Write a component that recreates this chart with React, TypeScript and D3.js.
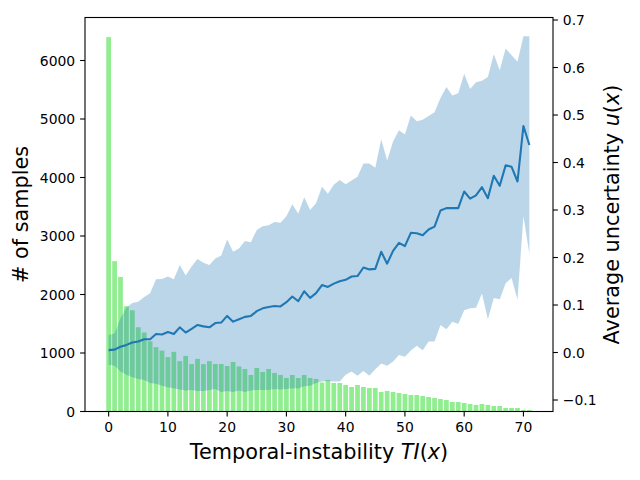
import React from "react";
import * as d3 from "d3";

// ---- data ----
const counts = [
  6400, 2570, 2300, 1800, 1730, 1440, 1350, 1200, 1100, 1040,
  930, 1020, 860, 950, 810, 900, 810, 860, 812, 812,
  778, 846, 770, 727, 624, 744, 676, 727, 659, 624,
  573, 624, 573, 624, 573, 556, 496, 539, 488, 488,
  453, 419, 453, 419, 402, 402, 334, 351, 334, 316,
  299, 282, 282, 265, 248, 231, 214, 197, 162, 162,
  145, 128, 111, 128, 111, 94, 94, 60, 60, 60,
  26, 26,
];

const meanU = [
  0.005, 0.006, 0.012, 0.016, 0.021, 0.023, 0.028, 0.028, 0.039, 0.038,
  0.043, 0.039, 0.053, 0.042, 0.050, 0.058, 0.055, 0.053, 0.062, 0.063,
  0.077, 0.065, 0.070, 0.075, 0.077, 0.087, 0.093, 0.096, 0.098, 0.097,
  0.106, 0.118, 0.108, 0.129, 0.115, 0.125, 0.142, 0.138, 0.145, 0.150,
  0.153, 0.160, 0.161, 0.179, 0.175, 0.176, 0.212, 0.187, 0.214, 0.231,
  0.224, 0.252, 0.251, 0.247, 0.259, 0.265, 0.299, 0.304, 0.304, 0.304,
  0.339, 0.324, 0.331, 0.348, 0.325, 0.372, 0.351, 0.394, 0.391, 0.360,
  0.477, 0.437,
];

const upperU = [
  0.037, 0.040, 0.072, 0.095, 0.104, 0.107, 0.117, 0.125, 0.154, 0.155,
  0.160, 0.154, 0.184, 0.162, 0.181, 0.197, 0.189, 0.184, 0.198, 0.204,
  0.238, 0.212, 0.219, 0.235, 0.232, 0.258, 0.266, 0.268, 0.275, 0.273,
  0.287, 0.312, 0.292, 0.327, 0.300, 0.314, 0.349, 0.334, 0.353, 0.363,
  0.354, 0.362, 0.370, 0.398, 0.398, 0.389, 0.449, 0.404, 0.444, 0.468,
  0.459, 0.499, 0.487, 0.490, 0.498, 0.506, 0.536, 0.559, 0.541, 0.546,
  0.587, 0.555, 0.569, 0.572, 0.580, 0.628, 0.594, 0.640, 0.626, 0.612,
  0.666, 0.666,
];

const lowerU = [
  -0.026, -0.028, -0.040, -0.047, -0.052, -0.056, -0.058, -0.064, -0.066, -0.070,
  -0.073, -0.075, -0.078, -0.080, -0.079, -0.081, -0.081, -0.079, -0.077, -0.083,
  -0.081, -0.083, -0.080, -0.083, -0.080, -0.079, -0.079, -0.079, -0.077, -0.078,
  -0.077, -0.075, -0.076, -0.071, -0.070, -0.064, -0.061, -0.060, -0.061, -0.061,
  -0.047, -0.040, -0.049, -0.039, -0.049, -0.035, -0.023, -0.028, -0.019, -0.005,
  -0.009, 0.004, 0.014, 0.005, 0.023, 0.023, 0.058, 0.049, 0.065, 0.060,
  0.089, 0.093, 0.094, 0.124, 0.070, 0.115, 0.112, 0.146, 0.157, 0.111,
  0.287, 0.208,
];

const xTicks = [0, 10, 20, 30, 40, 50, 60, 70];
const leftTicks = [0, 1000, 2000, 3000, 4000, 5000, 6000];
const rightTicks = [-0.1, 0.0, 0.1, 0.2, 0.3, 0.4, 0.5, 0.6, 0.7];

// ---- layout ----
const W = 640;
const H = 480;
const L = 85;
const R = 553;
const T = 17.5;
const B = 411.5;
const FONT = "DejaVu Sans";
const BLUE = "#1f77b4";

export default function App() {
  const xs = d3.scaleLinear().domain([-3.99, 74.99]).range([L, R]);
  const yl = d3.scaleLinear().domain([0, 6735]).range([B, T]);
  const yr = d3.scaleLinear().domain([-0.1242, 0.7053]).range([B, T]);
  const idx = counts.map((_, i) => i);

  const area = d3
    .area<number>()
    .x((i) => xs(i))
    .y0((i) => yr(lowerU[i]))
    .y1((i) => yr(upperU[i]));
  const line = d3
    .line<number>()
    .x((i) => xs(i))
    .y((i) => yr(meanU[i]));

  const fmtR = (v: number) => {
    const s = v.toFixed(1);
    return s.startsWith("-") ? "\u2212" + s.slice(1) : s;
  };
  const tickLen = 4.9;
  const tickFs = 13.9;
  const labelFs = 20.8;

  return (
    <svg
      width={W}
      height={H}
      style={{ position: "absolute", left: 0, top: 0, background: "#fff" }}
      fontFamily={FONT}
    >
      <rect x={0} y={0} width={W} height={H} fill="#fff" />
      {/* bars */}
      {idx.map((i) => (
        <rect
          key={i}
          x={xs(i - 0.4)}
          width={xs(i + 0.4) - xs(i - 0.4)}
          y={yl(counts[i])}
          height={B - yl(counts[i])}
          fill="#90ee90"
        />
      ))}
      {/* band */}
      <path d={area(idx) || ""} fill={BLUE} fillOpacity={0.3} />
      {/* mean line */}
      <path d={line(idx) || ""} fill="none" stroke={BLUE} strokeWidth={2.08} strokeLinejoin="round" />
      {/* spines */}
      <rect x={L} y={T} width={R - L} height={B - T} fill="none" stroke="#000" strokeWidth={1.1} />
      {/* x ticks */}
      {xTicks.map((t) => (
        <g key={"x" + t}>
          <line x1={xs(t)} x2={xs(t)} y1={B} y2={B + tickLen} stroke="#000" strokeWidth={1.1} />
          <text x={xs(t)} y={B + tickLen + 4.9 + tickFs * 0.76} fontSize={tickFs} textAnchor="middle">
            {t}
          </text>
        </g>
      ))}
      {/* left ticks */}
      {leftTicks.map((t) => (
        <g key={"l" + t}>
          <line x1={L - tickLen} x2={L} y1={yl(t)} y2={yl(t)} stroke="#000" strokeWidth={1.1} />
          <text x={L - tickLen - 4.9} y={yl(t)} dy="0.36em" fontSize={tickFs} textAnchor="end">
            {t}
          </text>
        </g>
      ))}
      {/* right ticks */}
      {rightTicks.map((t) => (
        <g key={"r" + t}>
          <line x1={R} x2={R + tickLen} y1={yr(t)} y2={yr(t)} stroke="#000" strokeWidth={1.1} />
          <text x={R + tickLen + 4.9} y={yr(t)} dy="0.36em" fontSize={tickFs} textAnchor="start">
            {fmtR(t)}
          </text>
        </g>
      ))}
      {/* axis labels */}
      <text x={(L + R) / 2} y={459} fontSize={labelFs} textAnchor="middle">
        Temporal-instability <tspan fontStyle="italic">TI</tspan>(<tspan fontStyle="italic">x</tspan>)
      </text>
      <text
        transform={`translate(${28},${(T + B) / 2}) rotate(-90)`}
        fontSize={labelFs}
        textAnchor="middle"
      >
        # of samples
      </text>
      <text
        transform={`translate(${619},${(T + B) / 2}) rotate(-90)`}
        fontSize={labelFs}
        textAnchor="middle"
      >
        Average uncertainty <tspan fontStyle="italic">u</tspan>(<tspan fontStyle="italic">x</tspan>)
      </text>
    </svg>
  );
}
